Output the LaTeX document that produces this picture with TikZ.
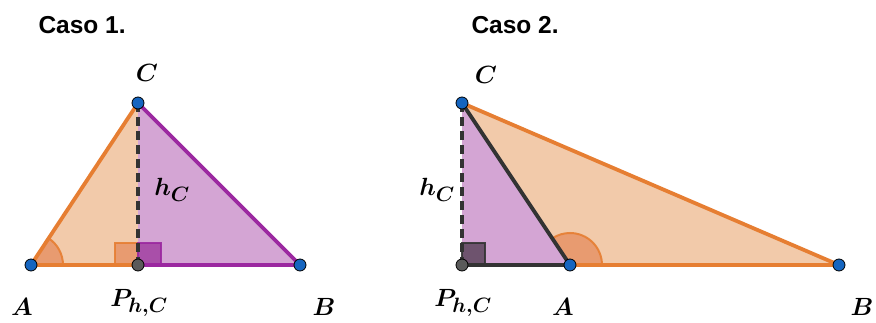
\documentclass[tikz,border=0pt]{standalone}
\usepackage{fontspec}
\usepackage{amsmath}
\usepackage{bm}
\usetikzlibrary{calc}
\newfontfamily\titlefont{Liberation Sans}
\definecolor{orl}{HTML}{E67E32}
\definecolor{orf}{HTML}{F2CAAA}
\definecolor{ora}{HTML}{E8966A}
\definecolor{pul}{HTML}{9B28A0}
\definecolor{puf}{HTML}{D4A5D4}
\definecolor{pus}{HTML}{A546A5}
\definecolor{dk}{HTML}{333333}
\definecolor{dsq}{HTML}{644B64}
\definecolor{ptb}{HTML}{1565C0}
\definecolor{ptg}{HTML}{5A5A5A}
\begin{document}
\begin{tikzpicture}[x=1pt,y=-1pt,
  title/.style={font=\titlefont\bfseries\fontsize{24.5}{26}\selectfont},
  lbl/.style={font=\fontsize{28}{30}\selectfont},
  oline/.style={draw=orl,line width=3.8pt,line cap=round,line join=round},
  pline/.style={draw=pul,line width=3.8pt,line cap=round,line join=round},
  dline/.style={draw=dk,line width=3.8pt,line cap=round,line join=round},
  hline/.style={draw=dk,line width=3.4pt,dash pattern=on 9pt off 5pt},
  bpt/.style={fill=ptb,draw=black,line width=0.8pt},
  gpt/.style={fill=ptg,draw=black,line width=0.8pt}]
\useasboundingbox (0,0) rectangle (876,323);
% ---------- Case 1 ----------
\node[title,anchor=west] (t1) at (35,25) {Caso 1.};
\coordinate (A1) at (31,265);
\coordinate (P1) at (138,265);
\coordinate (B1) at (300,265);
\coordinate (C1) at (138,103);
\fill[orf] (A1) -- (P1) -- (C1) -- cycle;
\fill[puf] (P1) -- (B1) -- (C1) -- cycle;
\filldraw[fill=ora,draw=orl,line width=2pt,opacity=0.9] (A1) -- ($(A1)+(32,0)$) arc[start angle=0,end angle=-56.5,radius=32] -- cycle;
\filldraw[fill=ora,draw=orl,line width=2pt,opacity=0.9] (115,243) rectangle (138,265);
\filldraw[fill=pus,draw=pul,line width=2pt,opacity=0.9] (138,243) rectangle (161,265);
\draw[oline] (A1) -- (P1);
\draw[oline] (A1) -- (C1);
\draw[pline] (P1) -- (B1);
\draw[pline] (C1) -- (B1);
\draw[hline] (C1) -- (P1);
\filldraw[bpt] (A1) circle (6);
\filldraw[bpt] (B1) circle (6);
\filldraw[bpt] (C1) circle (6);
\filldraw[gpt] (P1) circle (6);
\node[lbl] (lC1) at (147,73) {$\bm{C}$};
\node[lbl] (lh1) at (172,190) {$\bm{h_C}$};
\node[lbl] (lA1) at (22,307) {$\bm{A}$};
\node[lbl] (lP1) at (139,303) {$\bm{P_{h,C}}$};
\node[lbl] (lB1) at (324,307) {$\bm{B}$};
% ---------- Case 2 ----------
\node[title,anchor=west] (t2) at (468,25) {Caso 2.};
\coordinate (C2) at (462,103);
\coordinate (P2) at (462,265);
\coordinate (A2) at (570,265);
\coordinate (B2) at (839,265);
\fill[puf] (P2) -- (A2) -- (C2) -- cycle;
\fill[orf] (A2) -- (B2) -- (C2) -- cycle;
\filldraw[fill=ora,draw=orl,line width=2pt,opacity=0.9] (A2) -- ($(A2)+(32,0)$) arc[start angle=0,end angle=-123.7,radius=32] -- cycle;
\filldraw[fill=dsq,draw=dk,line width=2pt,opacity=0.9] (462,243) rectangle (485,265);
\draw[oline] (A2) -- (B2);
\draw[oline] (C2) -- (B2);
\draw[dline] (P2) -- (A2);
\draw[dline] (C2) -- (A2);
\draw[hline] (C2) -- (P2);
\filldraw[bpt] (A2) circle (6);
\filldraw[bpt] (B2) circle (6);
\filldraw[bpt] (C2) circle (6);
\filldraw[gpt] (P2) circle (6);
\node[lbl] (lC2) at (486,75) {$\bm{C}$};
\node[lbl] (lh2) at (437,190) {$\bm{h_C}$};
\node[lbl] (lP2) at (463,303) {$\bm{P_{h,C}}$};
\node[lbl] (lA2) at (563,307) {$\bm{A}$};
\node[lbl] (lB2) at (862,307) {$\bm{B}$};
\end{tikzpicture}
\end{document}
